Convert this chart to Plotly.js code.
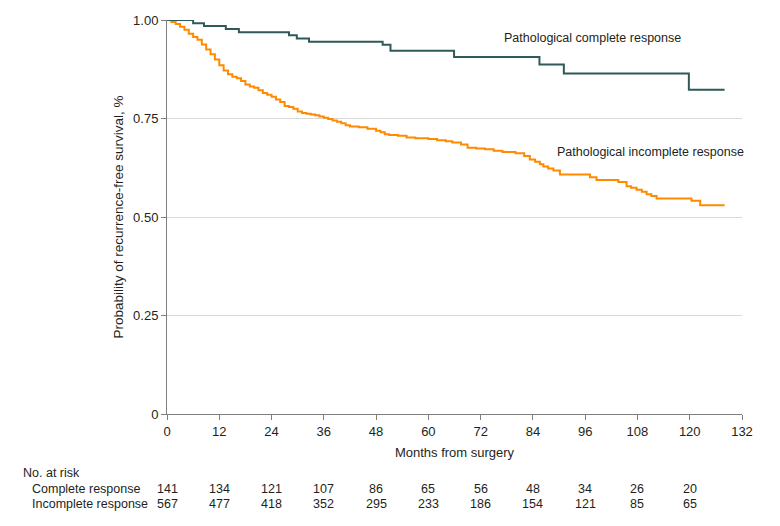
<!DOCTYPE html>
<html>
<head>
<meta charset="utf-8">
<script src="https://cdn.plot.ly/plotly-3.0.1.min.js"></script>
<style>html,body{margin:0;padding:0;background:#fff;}#chart{width:780px;height:526px;}</style>
</head>
<body>
<div id="chart"></div>
<script>
// Pathological complete response (step curve)
const completeMonths = [0, 6, 8.5, 13.5, 16.5, 28, 29.8, 32.6, 49.5, 51.3, 65.9, 85.5, 91.1, 119.8, 128];
const completeSurv   = [1.0, 0.992, 0.985, 0.977, 0.969, 0.961, 0.953, 0.945, 0.937, 0.922, 0.906, 0.887, 0.864, 0.823, 0.823];

// Pathological incomplete response (step curve)
const incompleteMonths = [0, 1, 2, 3, 4, 5, 6, 7, 8, 9, 10, 11, 12, 13, 14, 15, 16, 17, 18, 19, 20, 21, 22, 23, 24, 25, 26, 27, 28, 29, 30, 31, 32, 33, 34, 35, 36, 37, 38, 39, 40, 41, 42, 44, 46, 48, 49, 50, 51, 53, 55, 57, 60, 62, 64, 65.5, 67.5, 69, 71, 73, 75, 77, 80, 82, 83.3, 84.5, 85.6, 86.4, 87.5, 88.7, 90.2, 97.1, 98.6, 103.6, 105.5, 106.5, 107.8, 109, 110.1, 111.2, 112.4, 120.4, 122.4, 128];
const incompleteSurv   = [1.0, 0.995, 0.99, 0.983, 0.975, 0.965, 0.957, 0.95, 0.938, 0.925, 0.913, 0.9, 0.885, 0.872, 0.862, 0.856, 0.852, 0.845, 0.836, 0.831, 0.828, 0.822, 0.815, 0.81, 0.805, 0.798, 0.792, 0.782, 0.779, 0.775, 0.768, 0.764, 0.762, 0.76, 0.758, 0.755, 0.752, 0.749, 0.745, 0.742, 0.738, 0.733, 0.73, 0.728, 0.724, 0.719, 0.715, 0.71, 0.708, 0.706, 0.702, 0.7, 0.698, 0.695, 0.692, 0.689, 0.684, 0.676, 0.674, 0.672, 0.668, 0.665, 0.662, 0.655, 0.646, 0.64, 0.634, 0.628, 0.623, 0.618, 0.608, 0.601, 0.594, 0.589, 0.578, 0.574, 0.569, 0.564, 0.558, 0.553, 0.547, 0.541, 0.53, 0.53];

// Risk table
const riskMonths = [0, 12, 24, 36, 48, 60, 72, 84, 96, 108, 120];
const riskComplete = [141, 134, 121, 107, 86, 65, 56, 48, 34, 26, 20];
const riskIncomplete = [567, 477, 418, 352, 295, 233, 186, 154, 121, 85, 65];
const riskRowLabels = ["Complete response", "Incomplete response"];

const xTicks = [0, 12, 24, 36, 48, 60, 72, 84, 96, 108, 120, 132];
const yTicks = [0, 0.25, 0.5, 0.75, 1.0];
const yTickText = ["0", "0.25", "0.50", "0.75", "1.00"];

const FONT = "Liberation Sans, Arial, sans-serif";
const TXT = "#231f20";

const traces = [
  {x: incompleteMonths, y: incompleteSurv, type: "scatter", mode: "lines",
   line: {shape: "hv", color: "#ff8a00", width: 2}, hoverinfo: "skip", cliponaxis: false},
  {x: completeMonths, y: completeSurv, type: "scatter", mode: "lines",
   line: {shape: "hv", color: "#2f5a5a", width: 2}, hoverinfo: "skip", cliponaxis: false}
];

const annotations = [
  {x: 97.7, y: 0.9535, xref: "x", yref: "y", text: "Pathological complete response", showarrow: false,
   xanchor: "center", yanchor: "middle", font: {family: FONT, size: 12.5, color: TXT}},
  {x: 111.1, y: 0.664, xref: "x", yref: "y", text: "Pathological incomplete response", showarrow: false,
   xanchor: "center", yanchor: "middle", font: {family: FONT, size: 12.5, color: TXT}}
];
annotations.push({x: -167/575, y: -(473-414)/394, xref: "paper", yref: "paper", xanchor: "left", yanchor: "middle",
  text: "No. at risk", showarrow: false, font: {family: FONT, size: 12.5, color: TXT}, xshift: 21});
const rowY = [-(489-414)/394, -(504-414)/394];
riskRowLabels.forEach((lab, i) => {
  annotations.push({x: -167/575, y: rowY[i], xref: "paper", yref: "paper", xanchor: "left", yanchor: "middle",
    text: lab, showarrow: false, font: {family: FONT, size: 12.5, color: TXT}, xshift: 30});
});
[riskComplete, riskIncomplete].forEach((row, i) => {
  row.forEach((v, j) => {
    annotations.push({x: riskMonths[j], y: rowY[i], xref: "x", yref: "paper", xanchor: "center", yanchor: "middle",
      text: String(v), showarrow: false, font: {family: FONT, size: 12.5, color: TXT}});
  });
});

const layout = {
  width: 780, height: 526,
  margin: {l: 167, r: 38, t: 20, b: 112},
  paper_bgcolor: "#fff", plot_bgcolor: "#fff",
  showlegend: false,
  font: {family: FONT, size: 12.5, color: TXT},
  xaxis: {
    range: [0, 132], tickvals: xTicks, ticktext: xTicks.map(String),
    showgrid: false, zeroline: false, showline: true, linecolor: "#7f7f7f", linewidth: 1,
    ticks: "outside", ticklen: 5, tickcolor: "#7f7f7f",
    tickfont: {family: FONT, size: 13, color: TXT},
    title: {text: "Months from surgery", standoff: 10, font: {family: FONT, size: 13, color: TXT}}
  },
  yaxis: {
    range: [0, 1], tickvals: yTicks, ticktext: yTickText,
    showgrid: true, gridcolor: "#d9d9d9", gridwidth: 1,
    zeroline: false, showline: true, linecolor: "#7f7f7f", linewidth: 1,
    ticks: "outside", ticklen: 5, tickcolor: "#7f7f7f",
    tickfont: {family: FONT, size: 13, color: TXT},
    title: {text: "Probability of recurrence-free survival, %", standoff: 6, font: {family: FONT, size: 13.5, color: TXT}}
  },
  annotations: annotations
};

Plotly.newPlot("chart", traces, layout, {staticPlot: true, displayModeBar: false});
</script>
</body>
</html>
